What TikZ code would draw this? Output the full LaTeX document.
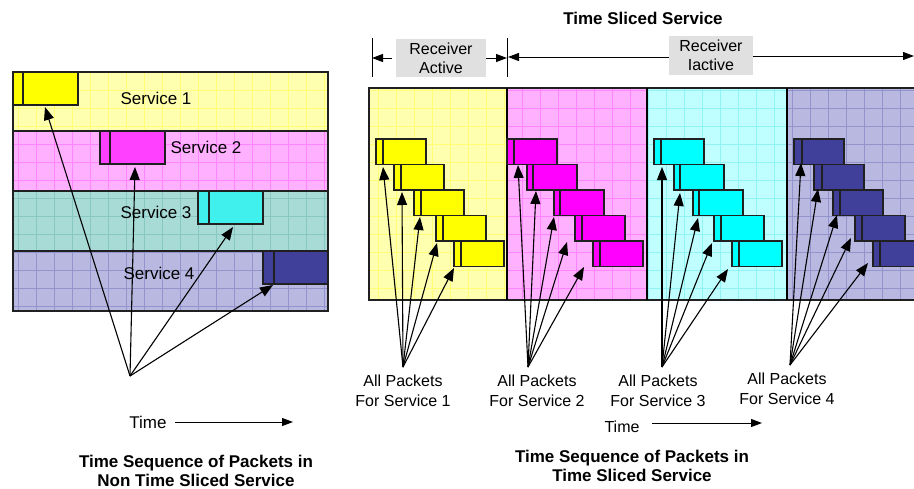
\documentclass[tikz,border=0pt]{standalone}
\usepackage{fontspec}
\setmainfont{Liberation Sans}
\usetikzlibrary{arrows.meta}
\definecolor{ybg}{HTML}{FFFFB0}\definecolor{yln}{HTML}{FFFF78}
\definecolor{mbg}{HTML}{FFB0FF}\definecolor{mln}{HTML}{FF84FF}
\definecolor{tbg}{HTML}{A8DAD6}\definecolor{tln}{HTML}{88C8C2}
\definecolor{cbg}{HTML}{C0FFFF}\definecolor{cln}{HTML}{90F4F4}
\definecolor{bbg}{HTML}{B8B8E0}\definecolor{bln}{HTML}{9494CC}
\definecolor{pky}{HTML}{FFFF00}\definecolor{pkm}{HTML}{FF00FF}
\definecolor{pkml}{HTML}{FF40FF}\definecolor{pkc}{HTML}{00FFFF}
\definecolor{pkcl}{HTML}{40F0EC}\definecolor{pkb}{HTML}{40409A}
\definecolor{gbx}{HTML}{E0E0E0}\definecolor{edge}{HTML}{202020}
\tikzset{
  pkt/.style={draw=edge, line width=1.1pt, anchor=north west, inner sep=0pt, outer sep=0pt,
    minimum width=50pt, minimum height=25.5pt},
  bigpkt/.style={minimum width=65pt, minimum height=33pt},
  pktline/.style={draw=edge, line width=1.1pt},
  arr/.style={line width=1.1pt, -{Triangle[length=13pt,width=10pt]}},
  tarr/.style={line width=1pt, -{Triangle[length=11pt,width=8pt]}},
  lbl/.style={font=\fontsize{16}{20}\selectfont, align=center, inner sep=0pt},
  svc/.style={font=\fontsize{17}{20}\selectfont, inner sep=0pt},
  ttl/.style={font=\bfseries\fontsize{17}{19}\selectfont, align=center, inner sep=0pt},
  gbox/.style={fill=gbx, font=\fontsize{16}{19}\selectfont, align=center, inner sep=0pt},
  frame/.style={draw=edge, line width=1.2pt},
}
\newcommand\texbg[6]{%
  \fill[#5] (#1,#2) rectangle (#3,#4);
  \draw[#6, line width=.5pt, step=18pt] (#1,#4) grid (#3,#2);
}
\newcommand\mypkt[6][]{%
  \node[pkt,#1,fill=#5] (#2) at (#3,#4) {};
  \draw[pktline] ([xshift=#6pt]#2.north west) -- ([xshift=#6pt]#2.south west);
}
\begin{document}
\begin{tikzpicture}[x=1pt,y=-1pt]
\useasboundingbox (0,0) rectangle (914,488);

% ---------- left panel ----------
\texbg{13}{72}{328}{131}{ybg}{yln}
\texbg{13}{131}{328}{191}{mbg}{mln}
\texbg{13}{191}{328}{251}{tbg}{tln}
\texbg{13}{251}{328}{311}{bbg}{bln}
\draw[frame] (13,72) rectangle (328,311);
\draw[frame] (13,131) -- (328,131) (13,191) -- (328,191) (13,251) -- (328,251);

\mypkt[bigpkt]{L1}{13}{72}{pky}{10}
\mypkt[bigpkt]{L2}{100}{131}{pkml}{10}
\mypkt[bigpkt]{L3}{198}{191}{pkcl}{11}
\mypkt[bigpkt]{L4}{263}{251}{pkb}{11}

\node[svc] (s1) at (156,98) {Service 1};
\node[svc] (s2) at (206,147) {Service 2};
\node[svc] (s3) at (156,212) {Service 3};
\node[svc] (s4) at (159,273) {Service 4};

\coordinate (lc) at (130,376);
\coordinate (lt1) at (45,107);
\coordinate (lt2) at (135,167);
\coordinate (lt3) at (233,227);
\coordinate (lt4) at (273,285);
\foreach \t in {lt1,lt2,lt3,lt4} \draw[arr] (lc) -- (\t);

\node[svc] (ltime) at (148,422) {Time};
\coordinate (lta) at (175,422);
\coordinate (ltb) at (293,422);
\draw[tarr] (lta) -- (ltb);
\node[ttl] (lcap) at (196,470.5) {Time Sequence of Packets in\\Non Time Sliced Service};

% ---------- right panel ----------
\texbg{369}{88}{507}{300}{ybg}{yln}
\texbg{507}{88}{647}{300}{mbg}{mln}
\texbg{647}{88}{787}{300}{cbg}{cln}
\texbg{787}{88}{930}{300}{bbg}{bln}
\draw[frame] (369,88) rectangle (930,300);
\draw[draw=black, line width=1.6pt] (507,88) -- (507,300) (647,88) -- (647,300) (787,88) -- (787,300);

\mypkt{Y1}{376}{139}{pky}{7}
\mypkt{Y2}{394}{164.5}{pky}{7}
\mypkt{Y3}{414}{190}{pky}{7}
\mypkt{Y4}{436}{215.5}{pky}{7}
\mypkt{Y5}{454}{241}{pky}{7}

\mypkt{M1}{507}{139}{pkm}{7}
\mypkt{M2}{527}{164.5}{pkm}{6}
\mypkt{M3}{554}{190}{pkm}{6}
\mypkt{M4}{575}{215.5}{pkm}{7}
\mypkt{M5}{593}{241}{pkm}{7}

\mypkt{C1}{654}{139}{pkc}{7}
\mypkt{C2}{674}{164.5}{pkc}{6}
\mypkt{C3}{693}{190}{pkc}{6}
\mypkt{C4}{714}{215.5}{pkc}{7}
\mypkt{C5}{732}{241}{pkc}{7}

\mypkt{B1}{794}{139}{pkb}{8}
\mypkt{B2}{814}{164.5}{pkb}{8}
\mypkt{B3}{833}{190}{pkb}{7}
\mypkt{B4}{855}{215.5}{pkb}{7}
\mypkt{B5}{873}{241}{pkb}{7}

\coordinate (yc) at (403,367);
\coordinate (mc) at (528,367);
\coordinate (cc) at (662,367);
\coordinate (bc) at (790,365);
\foreach \x/\y in {383/167,402/192,420/217,437/243,454/268} \draw[arr] (yc) -- (\x,\y);
\foreach \x/\y in {518/165,536/191,554/217,567/242,584/267} \draw[arr] (mc) -- (\x,\y);
\foreach \x/\y in {662/167,680/193,698/218,712/243,728/269} \draw[arr] (cc) -- (\x,\y);
\foreach \x/\y in {801/163,818/189,837/215,851/238,868/263} \draw[arr] (bc) -- (\x,\y);

\node[lbl] (a1) at (403,391) {All Packets\\For Service 1};
\node[lbl] (a2) at (537,391) {All Packets\\For Service 2};
\node[lbl] (a3) at (658,391) {All Packets\\For Service 3};
\node[lbl] (a4) at (787,389) {All Packets\\For Service 4};

\node[lbl] (rtime) at (622,427) {Time};
\coordinate (rta) at (652,423);
\coordinate (rtb) at (762,423);
\draw[tarr] (rta) -- (rtb);
\node[ttl] (rcap) at (632,466) {Time Sequence of Packets in\\Time Sliced Service};

% ---------- top ----------
\node[ttl] (title) at (643,18) {Time Sliced Service};
\coordinate (lb1) at (372,38); \coordinate (lb2) at (372,77);
\coordinate (rb1) at (507,38); \coordinate (rb2) at (507,77);
\draw[line width=1pt] (lb1) -- (lb2) (rb1) -- (rb2);
\node[gbox, minimum width=90pt, minimum height=38pt] (ra) at (441,58) {Receiver\\Active};
\node[gbox, minimum width=84pt, minimum height=39pt] (ri) at (711,55.5) {Receiver\\Iactive};
\coordinate (lbm) at (372,58);
\coordinate (rbm) at (507,58);
\coordinate (rbm2) at (508,57);
\coordinate (redge) at (914,56);
\draw[tarr, shorten <=4pt] (ra.west) -- (lbm);
\draw[tarr] (ra.east) -- (rbm);
\draw[tarr] (ri.west |- 0,57) -- (rbm2);
\draw[tarr] (ri.east |- 0,56) -- (redge);
\end{tikzpicture}
\end{document}
